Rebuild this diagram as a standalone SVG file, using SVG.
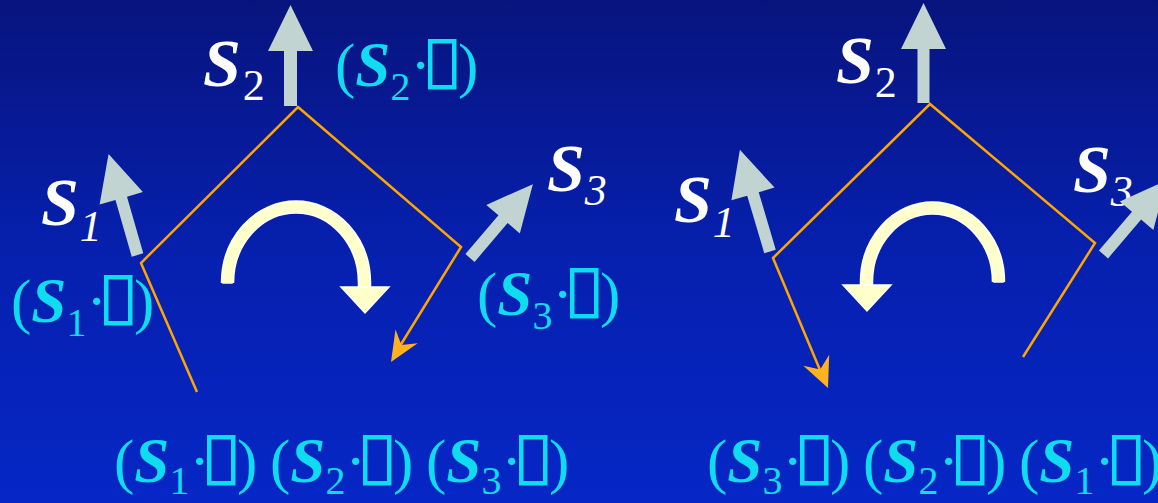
<svg xmlns="http://www.w3.org/2000/svg" width="1158" height="503" viewBox="0 0 1158 503">
<defs>
<linearGradient id="bg" x1="0" y1="0" x2="0" y2="1">
<stop offset="0" stop-color="#08147E"/>
<stop offset="0.5" stop-color="#0620AE"/>
<stop offset="1" stop-color="#0627C6"/>
</linearGradient>
<style>
.w{font-family:"Liberation Serif","Times New Roman",serif;fill:#FFFFFF;font-size:68px}
.c{font-family:"Liberation Serif","Times New Roman",serif;fill:#0FDCF0;font-size:61px}
.bi{font-weight:bold;font-style:italic}
.c .bi{font-size:63px}
.wsub{font-size:44px}
.it{font-style:italic}
.csub{font-size:40px}
.box{fill:none;stroke:#0FDCF0;stroke-width:4.5}
.vec{fill:#C2D4D2}
.path{fill:none;stroke:#FFA500;stroke-width:2.5;stroke-linejoin:miter}
.ahead{fill:#FFB21E}
.rotw{fill:none;stroke:#FFFFFF;stroke-width:13.5}
.roty{fill:none;stroke:#FFFFCC;stroke-width:10.5}
.rothead{fill:#FFFFCC;stroke:#FFFFFF;stroke-width:1.5}
</style>
</defs>
<rect x="0" y="0" width="1158" height="503" fill="url(#bg)"/>

<g id="connectors">
<path class="path" d="M197,392 L141,263 L298,107 L461,247 L400,346"/>
<polygon class="ahead" points="391,362 395.5,329.6 401.4,344.9 417.7,343.2"/>
<path class="path" d="M1023,357 L1095,243 L930,104 L773,258 L820,370"/>
<polygon class="ahead" points="828,388 829.2,354.8 820.2,369.6 803.4,365.8"/>
</g>

<g id="rotation-left">
<path class="rotw" d="M227.5,283 A68.5 76 0 0 1 364.5,283 L364.5,288"/>
<path class="roty" d="M227.5,283.7 A68.5 76 0 0 1 364.5,283 L364.5,289"/>
<polygon class="rothead" points="341,287 389,287 365,313"/>
</g>
<g id="rotation-right">
<path class="rotw" d="M998.5,282 A66 74 0 0 0 866.5,282 L866.5,286"/>
<path class="roty" d="M998.5,282.7 A66 74 0 0 0 866.5,282 L866.5,287"/>
<polygon class="rothead" points="843,285 891,285 867,311"/>
</g>

<g id="s1-left">
<path class="vec" transform="translate(137.5,255) rotate(-16)" d="M-6,0 V-59 H-22.5 L0,-105 L22.5,-59 H6 V0 Z"/>
<text class="w" x="41" y="225"><tspan class="bi">S</tspan><tspan class="wsub it" dx="1" dy="16">1</tspan></text>
</g>
<g id="s2-left">
<path class="vec" transform="translate(290.5,106)" d="M-6.5,0 V-55 H-22.5 L0,-101 L22.5,-55 H6.5 V0 Z"/>
<text class="w" x="203" y="86"><tspan class="bi">S</tspan><tspan class="wsub" dx="2" dy="14">2</tspan></text>
</g>
<g id="s3-left">
<path class="vec" transform="translate(470,258) rotate(40.4)" d="M-6,0 V-51 H-22 L0,-97 L22,-51 H6 V0 Z"/>
<text class="w" x="547" y="191"><tspan class="bi">S</tspan><tspan class="wsub it" dy="14">3</tspan></text>
</g>

<g id="s1-right">
<path class="vec" transform="translate(770,251.5) rotate(-16.5)" d="M-6,0 V-60 H-22.5 L0,-106 L22.5,-60 H6 V0 Z"/>
<text class="w" x="674" y="222"><tspan class="bi">S</tspan><tspan class="wsub it" dx="1" dy="15">1</tspan></text>
</g>
<g id="s2-right">
<text class="w" x="836" y="83"><tspan class="bi">S</tspan><tspan class="wsub" dx="1" dy="14">2</tspan></text>
<path class="vec" transform="translate(923.5,103)" d="M-6,0 V-54 H-22.5 L0,-100 L22.5,-54 H6 V0 Z"/>
</g>
<g id="s3-right">
<text class="w" x="1073" y="192"><tspan class="bi">S</tspan><tspan class="wsub it" dy="14">3</tspan></text>
<path class="vec" transform="translate(1103.5,254.5) rotate(40.4)" d="M-6,0 V-51 H-22 L0,-97 L22,-51 H6 V0 Z"/>
</g>

<g id="label-s2-top">
<text class="c" x="335" y="86">(<tspan class="bi">S</tspan><tspan class="csub" dy="14">2</tspan><tspan dy="-14">·</tspan><tspan x="458">)</tspan></text>
<rect class="box" x="430.25" y="41.25" width="24" height="46"/>
</g>
<g id="label-s1-side">
<text class="c" x="11" y="322">(<tspan class="bi">S</tspan><tspan class="csub" dy="14">1</tspan><tspan dy="-14">·</tspan><tspan x="134">)</tspan></text>
<rect class="box" x="106.25" y="277.25" width="24" height="46"/>
</g>
<g id="label-s3-side">
<text class="c" x="477" y="315">(<tspan class="bi">S</tspan><tspan class="csub" dy="14">3</tspan><tspan dy="-14">·</tspan><tspan x="600">)</tspan></text>
<rect class="box" x="572.25" y="270.25" width="24" height="46"/>
</g>

<g id="product-left">
<text class="c" x="114" y="482">(<tspan class="bi">S</tspan><tspan class="csub" dy="12">1</tspan><tspan dy="-12">·</tspan><tspan x="237">)</tspan><tspan x="270">(</tspan><tspan class="bi">S</tspan><tspan class="csub" dy="12">2</tspan><tspan dy="-12">·</tspan><tspan x="393">)</tspan><tspan x="426">(</tspan><tspan class="bi">S</tspan><tspan class="csub" dy="12">3</tspan><tspan dy="-12">·</tspan><tspan x="549">)</tspan></text>
<rect class="box" x="209.25" y="437.25" width="24" height="46"/>
<rect class="box" x="365.25" y="437.25" width="24" height="46"/>
<rect class="box" x="521.25" y="437.25" width="24" height="46"/>
</g>
<g id="product-right">
<text class="c" x="707" y="482">(<tspan class="bi">S</tspan><tspan class="csub" dy="12">3</tspan><tspan dy="-12">·</tspan><tspan x="830">)</tspan><tspan x="863">(</tspan><tspan class="bi">S</tspan><tspan class="csub" dy="12">2</tspan><tspan dy="-12">·</tspan><tspan x="986">)</tspan><tspan x="1019">(</tspan><tspan class="bi">S</tspan><tspan class="csub" dy="12">1</tspan><tspan dy="-12">·</tspan><tspan x="1142">)</tspan></text>
<rect class="box" x="802.25" y="437.25" width="24" height="46"/>
<rect class="box" x="958.25" y="437.25" width="24" height="46"/>
<rect class="box" x="1114.25" y="437.25" width="24" height="46"/>
</g>
</svg>
